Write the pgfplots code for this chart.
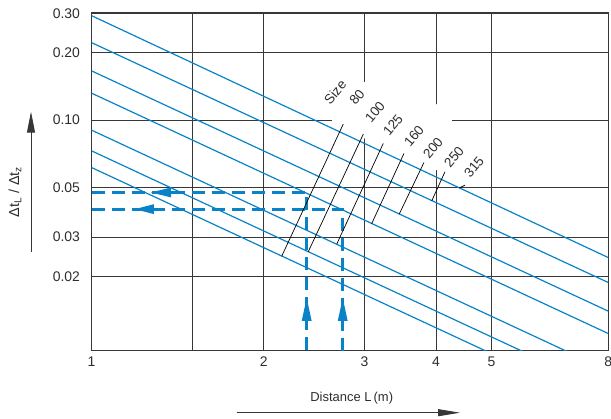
\documentclass[border=0pt]{standalone}
\usepackage{pgfplots}
\pgfplotsset{compat=1.18}
\usepackage{fontspec}
\setmainfont{Liberation Sans}
\usetikzlibrary{arrows.meta}
\definecolor{lblue}{RGB}{10,130,200}
\definecolor{gridc}{RGB}{55,55,55}
\definecolor{txtc}{RGB}{45,45,45}

\begin{document}
\begin{tikzpicture}
\path[use as bounding box] (-91.5bp,-68.3bp) rectangle (519.5bp,350.7bp);
\begin{axis}[
  at={(0bp,0bp)}, anchor=south west,
  scale only axis, width=516.8bp, height=338bp,
  xmode=log, ymode=log,
  xmin=1, xmax=8, ymin=0.00932, ymax=0.302,
  xtick={1,1.5,2,3,4,5,8}, xticklabels={1,,2,3,4,5,8},
  ytick={0.02,0.03,0.05,0.1,0.2,0.3},
  yticklabels={0.02,0.03,0.05,0.10,0.20,0.30},
  minor xtick={}, minor ytick={},
  major tick length=0pt,
  grid=major,
  major grid style={gridc, line width=0.9bp},
  axis line style={gridc, line width=0.9bp},
  tick label style={font=\fontsize{14}{16}\selectfont, text=txtc},
  xticklabel style={yshift=-3bp},
  yticklabel style={xshift=-8bp},
]
% white band behind the size labels
\addplot[fill=white, draw=none] coordinates {(2.632,0.1640) (4.265,0.1120) (4.265,0.0980) (4.080,0.0586) (3.018,0.0823) (2.632,0.0960)} -- cycle;

% characteristic lines (315 ... 80)
\addplot[lblue, line width=1.2bp] coordinates {(1,0.293) (8,0.0243)};
\addplot[lblue, line width=1.2bp] coordinates {(1,0.222) (8,0.0188)};
\addplot[lblue, line width=1.2bp] coordinates {(1,0.166) (8,0.0140)};
\addplot[lblue, line width=1.2bp] coordinates {(1,0.132) (8,0.01112)};
\addplot[lblue, line width=1.2bp] coordinates {(1,0.0902) (8,0.00759)};
\addplot[lblue, line width=1.2bp] coordinates {(1,0.0729) (8,0.00614)};
\addplot[lblue, line width=1.2bp] coordinates {(1,0.0614) (8,0.00517)};

% dashed reading lines
\addplot[lblue, line width=3bp, dash pattern=on 13bp off 7bp] coordinates {(1,0.0475) (2.377,0.0475) (2.377,0.00932)};
\addplot[lblue, line width=3bp, dash pattern=on 13bp off 7bp] coordinates {(1,0.040) (2.748,0.040) (2.748,0.00932)};

% arrow heads on the dashed lines
\draw[lblue, line width=3bp, -{Triangle[length=21bp,width=9bp]}] (axis cs:1.3807,0.0475) -- (axis cs:1.2655,0.0475);
\draw[lblue, line width=3bp, -{Triangle[length=20bp,width=9bp]}] (axis cs:1.2862,0.040) -- (axis cs:1.1865,0.040);
\draw[lblue, line width=3bp, -{Triangle[length=24bp,width=9bp]}] (axis cs:2.377,0.012528) -- (axis cs:2.377,0.01621);
\draw[lblue, line width=3bp, -{Triangle[length=24bp,width=9bp]}] (axis cs:2.748,0.012528) -- (axis cs:2.748,0.01621);

% leader lines
\draw[black, line width=0.7bp] (axis cs:2.754,0.0960) -- (axis cs:2.149,0.02460);
\draw[black, line width=0.7bp] (axis cs:2.9853,0.08656) -- (axis cs:2.3923,0.02582);
\draw[black, line width=0.7bp] (axis cs:3.2349,0.07866) -- (axis cs:2.6824,0.02790);
\draw[black, line width=0.7bp] (axis cs:3.5161,0.07098) -- (axis cs:3.0877,0.03445);
\draw[black, line width=0.7bp] (axis cs:3.8106,0.06467) -- (axis cs:3.4502,0.03806);
\draw[black, line width=0.7bp] (axis cs:4.1463,0.05873) -- (axis cs:3.9305,0.04347);
\draw[black, line width=0.7bp] (axis cs:4.4940,0.05121) -- (axis cs:4.3866,0.04966);

% size labels
\begin{scope}[every node/.style={rotate=50, font=\fontsize{13.5}{15}\selectfont, text=txtc, inner sep=0pt}]
\node at (axis cs:2.6641,0.13343) {Size};
\node at (axis cs:2.9104,0.12675) {80};
\node at (axis cs:3.1287,0.10859) {100};
\node at (axis cs:3.3632,0.09498) {125};
\node at (axis cs:3.6601,0.08480) {160};
\node at (axis cs:3.9511,0.07494) {200};
\node at (axis cs:4.3006,0.06831) {250};
\node at (axis cs:4.6596,0.06163) {315};
\end{scope}
\end{axis}

% axis titles with arrows
\draw[gridc, line width=0.9bp, -{Triangle[length=22bp,width=7bp]}] (145.2bp,-62bp) -- (368.5bp,-62bp);
\draw[gridc, line width=0.9bp, -{Triangle[length=21bp,width=8bp]}] (-60.5bp,99bp) -- (-60.5bp,239bp);
\node[font=\fontsize{13}{15}\selectfont, text=txtc] at (260.2bp,-47.3bp) {Distance L\,(m)};
\node[rotate=90, font=\fontsize{14.5}{16}\selectfont, text=txtc] at (-76.5bp,158.7bp) {Δt\textsubscript{L} / Δt\textsubscript{z}};
\end{tikzpicture}
\end{document}
